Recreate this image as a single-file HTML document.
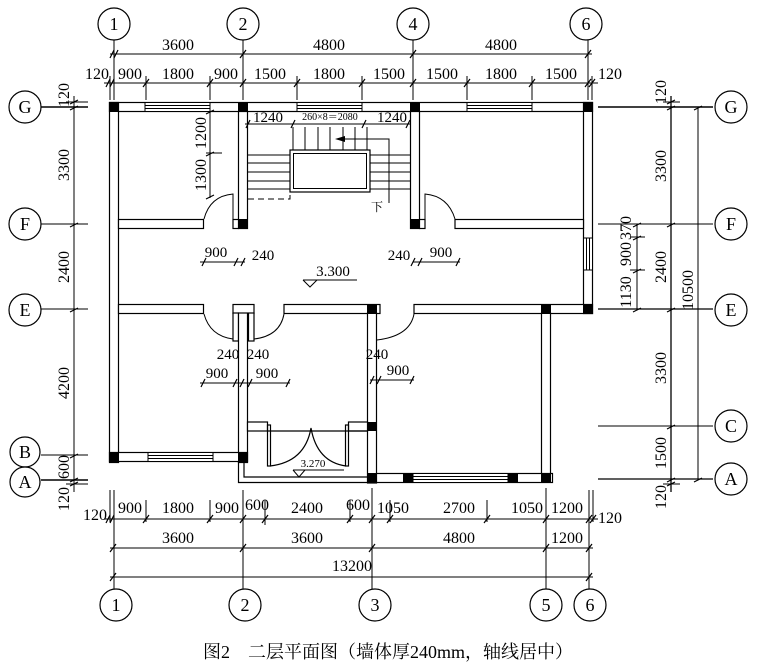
<!DOCTYPE html>
<html><head><meta charset="utf-8">
<style>
html,body{margin:0;padding:0;background:#fff;}
svg{display:block;}
text{font-family:"Liberation Serif","Noto Serif CJK SC",serif;fill:#000;}
</style></head>
<body>
<svg width="758" height="665" viewBox="0 0 758 665" xmlns="http://www.w3.org/2000/svg">
<g stroke="#000" fill="none" stroke-width="1">
<line x1="114" y1="40" x2="114" y2="100"/>
<line x1="243" y1="40" x2="243" y2="100"/>
<line x1="413" y1="40" x2="413" y2="100"/>
<line x1="588" y1="40" x2="588" y2="100"/>
<line x1="110" y1="76" x2="110" y2="100"/>
<line x1="592" y1="76" x2="592" y2="100"/>
<line x1="146" y1="76" x2="146" y2="100"/>
<line x1="210" y1="76" x2="210" y2="100"/>
<line x1="297" y1="76" x2="297" y2="100"/>
<line x1="362" y1="76" x2="362" y2="100"/>
<line x1="467" y1="76" x2="467" y2="100"/>
<line x1="532" y1="76" x2="532" y2="100"/>
<line x1="110" y1="54" x2="592" y2="54"/>
<line x1="104" y1="83" x2="598" y2="83"/>
<line x1="114" y1="490" x2="114" y2="590"/>
<line x1="243" y1="490" x2="243" y2="590"/>
<line x1="372" y1="488" x2="372" y2="590"/>
<line x1="546" y1="488" x2="546" y2="590"/>
<line x1="589" y1="490" x2="589" y2="590"/>
<line x1="110" y1="490" x2="110" y2="522"/>
<line x1="593" y1="490" x2="593" y2="522"/>
<line x1="146" y1="500" x2="146" y2="522"/>
<line x1="210" y1="500" x2="210" y2="522"/>
<line x1="265" y1="500" x2="265" y2="525"/>
<line x1="350" y1="500" x2="350" y2="522"/>
<line x1="390" y1="500" x2="390" y2="522"/>
<line x1="487" y1="500" x2="487" y2="522"/>
<line x1="104" y1="519" x2="598" y2="519"/>
<line x1="110" y1="548" x2="593" y2="548"/>
<line x1="110" y1="577" x2="593" y2="577"/>
<line x1="41" y1="107" x2="88" y2="107" stroke-width="1.5"/>
<line x1="41" y1="224" x2="88" y2="224"/>
<line x1="41" y1="309" x2="88" y2="309"/>
<line x1="41" y1="455" x2="88" y2="455"/>
<line x1="41" y1="480" x2="88" y2="480" stroke-width="1.5"/>
<line x1="74" y1="96" x2="74" y2="492"/>
<line x1="66" y1="102" x2="88" y2="102"/>
<line x1="66" y1="484" x2="88" y2="484"/>
<line x1="598" y1="107" x2="713" y2="107" stroke-width="1.5"/>
<line x1="598" y1="224" x2="713" y2="224"/>
<line x1="598" y1="309" x2="713" y2="309" stroke-width="1.3"/>
<line x1="598" y1="426" x2="713" y2="426"/>
<line x1="598" y1="479" x2="713" y2="479" stroke-width="1.3"/>
<line x1="671" y1="96" x2="671" y2="492" stroke-width="1.3"/>
<line x1="698" y1="107" x2="698" y2="479"/>
<line x1="637" y1="224" x2="637" y2="309"/>
<line x1="630" y1="237" x2="645" y2="237"/>
<line x1="630" y1="270" x2="645" y2="270"/>
<line x1="663" y1="102" x2="680" y2="102"/>
<line x1="663" y1="484" x2="680" y2="484"/>
</g>
<g stroke="#000" stroke-width="1.2">
<path d="M110 58l4-8M114 58l4-8M240 58l6-8M410 58l6-8M585 58l6-8
M106 87l4-8M110 87l4-8M143 87l6-8M207 87l6-8M240 87l6-8M294 87l6-8M359 87l6-8M410 87l6-8M464 87l6-8M529 87l6-8M585 87l6-8M589 87l6-8
M106 523l4-8M110 523l4-8M143 523l6-8M207 523l6-8M240 523l6-8M262 523l6-8M347 523l6-8M369 523l6-8M387 523l6-8M484 523l6-8M543 523l6-8M586 523l6-8M590 523l6-8
M110 552l6-8M240 552l6-8M369 552l6-8M543 552l6-8M586 552l6-8
M110 581l6-8M586 581l6-8
M70 104l8-4M70 110l8-4M70 227l8-4M70 312l8-4M70 458l8-4M70 482l8-4M70 486l8-4
M667 104l8-4M667 110l8-4M667 227l8-4M667 312l8-4M667 429l8-4M667 482l8-4M667 486l8-4
M694 110l8-4M694 482l8-4
M633 227l8-4M633 240l8-4M633 273l8-4M633 312l8-4"/>
</g>
<g stroke="#000" fill="#fff" stroke-width="1.2">
<circle cx="114" cy="24" r="16"/><circle cx="243" cy="24" r="16"/><circle cx="413" cy="24" r="16"/><circle cx="586" cy="24" r="16"/>
<circle cx="116" cy="605" r="16"/><circle cx="245" cy="605" r="16"/><circle cx="375" cy="605" r="16"/><circle cx="546" cy="605" r="16"/><circle cx="590" cy="605" r="16"/>
<circle cx="25" cy="107" r="16"/><circle cx="25" cy="224" r="16"/><circle cx="25" cy="310" r="16"/><circle cx="25" cy="452" r="15"/><circle cx="25" cy="482" r="15"/>
<circle cx="731" cy="107" r="16"/><circle cx="731" cy="224" r="16"/><circle cx="731" cy="310" r="16"/><circle cx="731" cy="426" r="16"/><circle cx="731" cy="479" r="16"/>
</g>
<g font-size="18" text-anchor="middle">
<text x="114" y="30">1</text><text x="243" y="30">2</text><text x="413" y="30">4</text><text x="586" y="30">6</text>
<text x="116" y="611">1</text><text x="245" y="611">2</text><text x="375" y="611">3</text><text x="546" y="611">5</text><text x="590" y="611">6</text>
<text x="25" y="113">G</text><text x="25" y="230">F</text><text x="25" y="316">E</text><text x="25" y="458">B</text><text x="25" y="488">A</text>
<text x="731" y="113">G</text><text x="731" y="230">F</text><text x="731" y="316">E</text><text x="731" y="432">C</text><text x="731" y="485">A</text>
</g>
<g font-size="16" text-anchor="middle">
<text x="178" y="50">3600</text><text x="329" y="50">4800</text><text x="501" y="50">4800</text>
<text x="97" y="79">120</text><text x="130" y="79">900</text><text x="178" y="79">1800</text><text x="226" y="79">900</text>
<text x="270" y="79">1500</text><text x="329" y="79">1800</text><text x="389" y="79">1500</text>
<text x="442" y="79">1500</text><text x="501" y="79">1800</text><text x="561" y="79">1500</text><text x="610" y="79">120</text>
<text x="95" y="520">120</text><text x="130" y="513">900</text><text x="178" y="513">1800</text><text x="227" y="513">900</text>
<text x="257" y="510">600</text><text x="307" y="513">2400</text><text x="358" y="510">600</text><text x="393" y="513">1050</text>
<text x="459" y="513">2700</text><text x="527" y="513">1050</text><text x="567" y="513">1200</text><text x="610" y="523">120</text>
<text x="178" y="543">3600</text><text x="307" y="543">3600</text><text x="459" y="543">4800</text><text x="567" y="543">1200</text>
<text x="352" y="571">13200</text>
</g>
<g font-size="16" text-anchor="middle">
<text transform="translate(69,95) rotate(-90)">120</text>
<text transform="translate(69,165) rotate(-90)">3300</text>
<text transform="translate(69,267) rotate(-90)">2400</text>
<text transform="translate(69,383) rotate(-90)">4200</text>
<text transform="translate(69,467) rotate(-90)">600</text>
<text transform="translate(69,499) rotate(-90)">120</text>
<text transform="translate(666,92) rotate(-90)">120</text>
<text transform="translate(666,166) rotate(-90)">3300</text>
<text transform="translate(666,267) rotate(-90)">2400</text>
<text transform="translate(666,368) rotate(-90)">3300</text>
<text transform="translate(666,453) rotate(-90)">1500</text>
<text transform="translate(666,497) rotate(-90)">120</text>
<text transform="translate(693,290) rotate(-90)">10500</text>
<text transform="translate(631,228) rotate(-90)">370</text>
<text transform="translate(631,254) rotate(-90)">900</text>
<text transform="translate(631,292) rotate(-90)">1130</text>
<text transform="translate(206,133) rotate(-90)">1200</text>
<text transform="translate(206,175) rotate(-90)">1300</text>
</g>
<g stroke="#000" stroke-width="1.2" fill="#fff">
<rect x="109.5" y="102.5" width="483" height="9"/>
<rect x="109.5" y="102.5" width="9" height="360"/>
<rect x="583.5" y="102.5" width="9" height="211"/>
<rect x="118.5" y="219.5" width="85" height="9"/>
<rect x="455" y="219.5" width="128.5" height="9"/>
<rect x="238.5" y="111.5" width="9" height="117"/>
<rect x="410.5" y="111.5" width="9" height="117"/>
<rect x="233" y="219.5" width="5.5" height="9"/>
<rect x="419.5" y="219.5" width="5.5" height="9"/>
<rect x="118.5" y="304.5" width="85" height="9"/>
<rect x="233" y="304.5" width="21" height="9"/>
<rect x="284" y="304.5" width="96" height="9"/>
<rect x="414" y="304.5" width="178.5" height="9"/>
<rect x="233" y="313" width="5.5" height="28"/>
<rect x="248.5" y="313" width="5.5" height="28"/>
<rect x="238.5" y="313" width="9" height="149.5"/>
<rect x="109.5" y="452.5" width="138" height="9"/>
<rect x="367.5" y="313" width="9" height="170"/>
<rect x="376.5" y="473.5" width="176" height="9"/>
<rect x="541.5" y="313" width="9" height="160.5"/>
<rect x="247.5" y="422" width="20" height="9"/>
<rect x="348.5" y="422" width="19" height="9"/>
</g>
<g stroke="#000" stroke-width="1.2" fill="none">
<path d="M238.5 461.5V482.5H367.5"/>
<path d="M244 461.5V477H367.5"/>
<line x1="267.5" y1="431" x2="367.5" y2="431"/>
<rect x="267.5" y="425" width="3" height="41"/>
<rect x="345.5" y="425" width="3" height="41"/>
<path d="M270 466Q305 462 311 428Q317 462 346 466"/>
</g>
<g stroke="#000" stroke-width="1" fill="#fff">
<rect x="145" y="102.5" width="65" height="9"/><line x1="145" y1="105.5" x2="210" y2="105.5"/><line x1="145" y1="108.5" x2="210" y2="108.5"/>
<rect x="297" y="102.5" width="65" height="9"/><line x1="297" y1="105.5" x2="362" y2="105.5"/><line x1="297" y1="108.5" x2="362" y2="108.5"/>
<rect x="467" y="102.5" width="65" height="9"/><line x1="467" y1="105.5" x2="532" y2="105.5"/><line x1="467" y1="108.5" x2="532" y2="108.5"/>
<rect x="148" y="452.5" width="65" height="9"/><line x1="148" y1="455.5" x2="213" y2="455.5"/><line x1="148" y1="458.5" x2="213" y2="458.5"/>
<rect x="413" y="473.5" width="95" height="9"/><line x1="413" y1="476.5" x2="508" y2="476.5"/><line x1="413" y1="479.5" x2="508" y2="479.5"/>
<rect x="583.5" y="238" width="9" height="32"/><line x1="586.5" y1="238" x2="586.5" y2="270"/><line x1="589.5" y1="238" x2="589.5" y2="270"/>
</g>
<g fill="#000">
<rect x="109" y="102" width="10" height="10"/><rect x="238" y="102" width="10" height="10"/>
<rect x="410" y="102" width="10" height="10"/><rect x="583" y="102" width="10" height="10"/>
<rect x="238" y="219" width="10" height="10"/><rect x="410" y="219" width="10" height="10"/>
<rect x="583" y="304" width="10" height="10"/><rect x="367" y="304" width="10" height="10"/>
<rect x="541" y="304" width="10" height="10"/>
<rect x="109" y="452" width="10" height="10"/><rect x="238" y="452" width="10" height="10"/>
<rect x="367" y="422" width="10" height="9"/><rect x="367" y="473" width="10" height="10"/>
<rect x="403" y="473" width="10" height="10"/><rect x="508" y="473" width="10" height="10"/>
<rect x="541" y="473" width="10" height="10"/>
</g>
<g stroke="#000" stroke-width="1" fill="none">
<path d="M233 219V194Q210 196 204 219"/>
<path d="M425 219V194Q448 196 455 219"/>
<path d="M204 314Q210 336 233 339"/>
<path d="M284 314Q280 336 254 339"/>
<path d="M414 314Q410 336 377 340"/>
</g>
<g stroke="#000" stroke-width="1" fill="none">
<rect x="290" y="150" width="80" height="42" stroke-width="1.2"/>
<rect x="293.5" y="153.5" width="73" height="35"/>
<path d="M293 127V150M305 127V150M318 127V150M330 127V150M343 127V150M355 127V150M367 127V150"/>
<path d="M248 155H290M248 163H290M248 172H290M248 181H290M248 189H290"/>
<path d="M370 155H410M370 163H410M370 172H410M370 181H410M370 189H410"/>
<path d="M248 199H290V189" stroke-dasharray="6,4"/>
<path d="M389 203V139H338"/>
<line x1="245" y1="124" x2="410" y2="124"/>
<path d="M246 128l4-8M291 128l4-8M362 128l4-8M406 128l4-8" stroke-width="1.2"/>
<line x1="210" y1="111" x2="210" y2="198"/>
<path d="M206 114l8-4M206 156l8-4M206 199l8-4" stroke-width="1.2"/>
<line x1="206" y1="153" x2="222" y2="153"/>
<line x1="200" y1="262" x2="245" y2="262"/>
<line x1="413" y1="262" x2="460" y2="262"/>
<path d="M202 266l4-8M234 266l4-8M241 266l4-8M411 266l4-8M418 266l4-8M456 266l4-8" stroke-width="1.2"/>
<line x1="200" y1="383" x2="290" y2="383"/>
<path d="M201 387l4-8M233 387l4-8M240 387l4-8M248 387l4-8M286 387l4-8" stroke-width="1.2"/>
<line x1="370" y1="380" x2="414" y2="380"/>
<path d="M370 384l4-8M377 384l4-8M410 384l4-8" stroke-width="1.2"/>
<line x1="303" y1="280" x2="357" y2="280"/>
<path d="M303 280l7 7l7-7"/>
<line x1="293" y1="470" x2="344" y2="470"/>
<path d="M293 470l6 7l6-7"/>
</g>
<polygon points="335,139 345,136 345,142" fill="#000"/>
<g font-size="15" text-anchor="middle">
<text x="268" y="122">1240</text><text x="392" y="122">1240</text>
<text x="216" y="257">900</text><text x="263" y="260">240</text>
<text x="399" y="260">240</text><text x="441" y="257">900</text>
<text x="333" y="276">3.300</text>
<text x="228" y="359">240</text><text x="258" y="359">240</text>
<text x="217" y="378">900</text><text x="267" y="378">900</text>
<text x="377" y="359">240</text><text x="398" y="375">900</text>
</g>
<text x="330" y="120" font-size="10" text-anchor="middle">260×8＝2080</text>
<text x="313" y="467" font-size="11" text-anchor="middle">3.270</text>
<text x="377" y="211" font-size="12" text-anchor="middle">下</text>
<text x="388" y="658" font-size="18" text-anchor="middle">图2　二层平面图（墙体厚240mm，轴线居中）</text>
</svg>
</body></html>
